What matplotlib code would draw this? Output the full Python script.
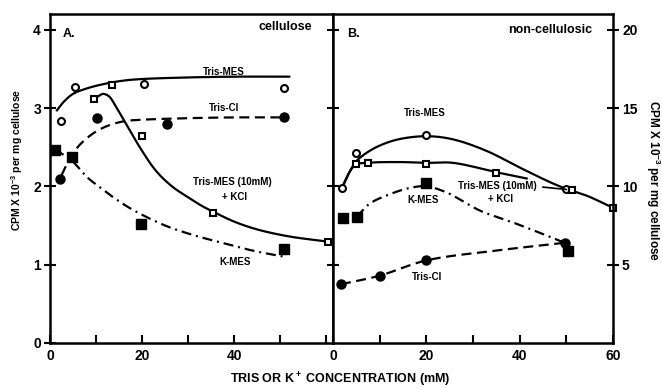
import matplotlib
matplotlib.use("Agg")
import matplotlib.pyplot as plt
import numpy as np

plt.rcParams["font.family"] = ["Liberation Sans", "DejaVu Sans"]
plt.rcParams["font.weight"] = "bold"
plt.rcParams["mathtext.fontset"] = "custom"
plt.rcParams["mathtext.default"] = "bf"
plt.rcParams["mathtext.bf"] = "Liberation Sans:bold"
plt.rcParams["mathtext.rm"] = "Liberation Sans:bold"

# ---- panel A (cellulose), left axis units CPM x 10^-3 ----
a_trismes_x = [2.4, 5.4, 20.4, 50.8]
a_trismes_y = [2.83, 3.27, 3.31, 3.25]
a_kcl_x = [9.5, 13.5, 20.0, 35.5, 60.5]
a_kcl_y = [3.11, 3.30, 2.64, 1.66, 1.29]
a_triscl_x = [2.2, 10.3, 25.4, 50.8]
a_triscl_y = [2.10, 2.87, 2.80, 2.88]
a_kmes_x = [1.1, 4.7, 19.7, 50.8]
a_kmes_y = [2.47, 2.37, 1.52, 1.20]

# hand-drawn fit curves
a_fit_trismes_x = [1.5, 3, 5, 8, 12, 16, 20, 30, 40, 52]
a_fit_trismes_y = [2.97, 3.08, 3.18, 3.25, 3.31, 3.35, 3.37, 3.39, 3.40, 3.40]
a_fit_kcl_x = [10.5, 11.5, 12.8, 14.5, 16.5, 19.5, 23, 26.5, 30, 33, 36, 40, 45, 52, 61]
a_fit_kcl_y = [3.15, 3.18, 3.15, 3.0, 2.8, 2.5, 2.2, 2.0, 1.86, 1.75, 1.66, 1.55, 1.45, 1.36, 1.29]
a_fit_triscl_x = [2.5, 4, 6, 9, 12, 16, 20, 30, 40, 51]
a_fit_triscl_y = [2.14, 2.32, 2.5, 2.66, 2.76, 2.83, 2.85, 2.87, 2.88, 2.88]
a_fit_kmes_x = [1.1, 4.7, 8, 11, 14, 18, 25, 31, 36, 44, 51]
a_fit_kmes_y = [2.47, 2.33, 2.12, 1.98, 1.85, 1.7, 1.5, 1.38, 1.3, 1.18, 1.1]

# ---- panel B (non-cellulosic), right axis units ----
b_trismes_x = [1.9, 5.0, 20.0, 50.0]
b_trismes_y = [9.9, 12.1, 13.3, 9.8]
b_kcl_x = [5.0, 7.5, 20.0, 35.0, 51.2, 60.0]
b_kcl_y = [11.4, 11.5, 11.4, 10.85, 9.75, 8.6]
b_kmes_x = [2.1, 5.1, 20.0, 50.4]
b_kmes_y = [8.0, 8.06, 10.2, 5.9]
b_triscl_x = [1.7, 10.0, 20.0, 49.7]
b_triscl_y = [3.75, 4.3, 5.27, 6.4]

b_fit_trismes_x = [1.9, 3.5, 5, 7, 10, 14, 20, 25.7, 33, 40, 47, 50, 54.4, 60]
b_fit_trismes_y = [9.9, 10.9, 11.6, 12.1, 12.6, 13.0, 13.2, 13.0, 12.25, 11.2, 10.2, 9.84, 9.4, 8.63]
b_fit_kcl_x = [1.9, 4.7, 7.5, 14.3, 20, 25.7, 35, 41.5]
b_fit_kcl_y = [9.9, 11.35, 11.5, 11.55, 11.5, 11.5, 10.9, 10.5]
b_fit_kmes_x = [5.1, 7.9, 12.2, 16.5, 20, 24.4, 31.5, 38.5, 45.8, 50]
b_fit_kmes_y = [8.06, 8.9, 9.5, 9.9, 10.0, 9.6, 8.45, 7.7, 6.86, 6.35]
b_fit_triscl_x = [1.7, 10, 20, 35, 49.7]
b_fit_triscl_y = [3.75, 4.3, 5.27, 5.9, 6.4]

x_ticks = [0, 10, 20, 30, 40, 50, 60]


def smooth(xs, ys, yscale, n=24):
    # centripetal Catmull-Rom through the read points (y scaled to pixel aspect)
    p = np.column_stack([xs, np.asarray(ys, float) * yscale]).astype(float)
    p = np.vstack([2 * p[0] - p[1], p, 2 * p[-1] - p[-2]])
    out = []
    for i in range(1, len(p) - 2):
        p0, p1, p2, p3 = p[i - 1], p[i], p[i + 1], p[i + 2]
        t0 = 0.0
        t1 = t0 + np.linalg.norm(p1 - p0) ** 0.5
        t2 = t1 + np.linalg.norm(p2 - p1) ** 0.5
        t3 = t2 + np.linalg.norm(p3 - p2) ** 0.5
        t = np.linspace(t1, t2, n, endpoint=False)[:, None]
        a1 = (t1 - t) / (t1 - t0) * p0 + (t - t0) / (t1 - t0) * p1
        a2 = (t2 - t) / (t2 - t1) * p1 + (t - t1) / (t2 - t1) * p2
        a3 = (t3 - t) / (t3 - t2) * p2 + (t - t2) / (t3 - t2) * p3
        b1 = (t2 - t) / (t2 - t0) * a1 + (t - t0) / (t2 - t0) * a2
        b2 = (t3 - t) / (t3 - t1) * a2 + (t - t1) / (t3 - t1) * a3
        out.append((t2 - t) / (t2 - t1) * b1 + (t - t1) / (t2 - t1) * b2)
    out.append(p[-2][None, :])
    out = np.vstack(out)
    return out[:, 0], out[:, 1] / yscale


LW = 1.6
DASH = (0, (4.5, 2.5))
DASHDOT = (0, (4.5, 2.2, 0.9, 2.2))
TXT = dict(fontsize=7, fontweight="bold", ha="center", va="center")
YS_A = 78.5 / 4.6
YS_B = 15.75 / 4.67

fig = plt.figure(figsize=(6.62, 3.88), dpi=100)
ax_a = fig.add_axes([50 / 662, 45 / 388, 283 / 662, 329 / 388])
ax_b = fig.add_axes([333 / 662, 45 / 388, 280 / 662, 329 / 388])

for ax in (ax_a, ax_b):
    for sp in ax.spines.values():
        sp.set_linewidth(1.8)
    ax.set_xticks(x_ticks)
    ax.tick_params(axis="x", direction="in", length=6, width=1.5, labelsize=10, pad=4)
    ax.tick_params(axis="y", direction="inout", length=9, width=1.5, labelsize=10, pad=2)

# panel A
ax_a.set_xlim(0, 61.5)
ax_a.set_ylim(0, 4.2)
ax_a.set_yticks([0, 1, 2, 3, 4])
ax_a.set_xticklabels(["0", "", "20", "", "40", "", ""])
ax_a.plot(*smooth(a_fit_trismes_x, a_fit_trismes_y, YS_A), color="black", lw=LW)
ax_a.plot(*smooth(a_fit_kcl_x, a_fit_kcl_y, YS_A), color="black", lw=LW, clip_on=False)
ax_a.plot(*smooth(a_fit_triscl_x, a_fit_triscl_y, YS_A), color="black", lw=LW, linestyle=DASH)
ax_a.plot(*smooth(a_fit_kmes_x, a_fit_kmes_y, YS_A), color="black", lw=LW, linestyle=DASHDOT)
ax_a.plot(a_trismes_x, a_trismes_y, "o", ms=5, mfc="white", mec="black", mew=1.5, ls="none")
ax_a.plot(a_kcl_x, a_kcl_y, "s", ms=5, mfc="white", mec="black", mew=1.5, ls="none", clip_on=False)
ax_a.plot(a_triscl_x, a_triscl_y, "o", ms=6.5, color="black", ls="none")
ax_a.plot(a_kmes_x, a_kmes_y, "s", ms=6.5, color="black", ls="none")

ax_a.text(2.8, 3.94, "A.", fontsize=9, fontweight="bold", ha="left", va="center")
ax_a.text(57, 4.03, "cellulose", fontsize=9, fontweight="bold", ha="right", va="center")
ax_a.text(37.8, 3.46, "Tris-MES", **TXT)
ax_a.text(37.8, 3.0, "Tris-Cl", **TXT)
ax_a.text(39.6, 2.05, "Tris-MES (10mM)", **TXT)
ax_a.text(40, 1.87, "+ KCl", **TXT)
ax_a.text(40.2, 1.03, "K-MES", **TXT)

# panel B
ax_b.set_xlim(0, 60)
ax_b.set_ylim(0, 21)
ax_b.set_xticklabels(["0", "", "20", "", "40", "", "60"])
ax_b.set_yticks([5, 10, 15, 20])
ax_b.yaxis.set_ticks_position("both")
ax_b.tick_params(axis="y", labelleft=False, labelright=True)
ax_b.tick_params(axis="y", which="both", right=True, direction="inout")
ax_b.plot(*smooth(b_fit_trismes_x, b_fit_trismes_y, YS_B), color="black", lw=LW, clip_on=False)
ax_b.plot(*smooth(b_fit_kcl_x, b_fit_kcl_y, YS_B), color="black", lw=LW)
ax_b.plot(*smooth(b_fit_kmes_x, b_fit_kmes_y, YS_B), color="black", lw=LW, linestyle=DASHDOT)
ax_b.plot(*smooth(b_fit_triscl_x, b_fit_triscl_y, YS_B), color="black", lw=LW, linestyle=DASH)
ax_b.plot(b_trismes_x, b_trismes_y, "o", ms=5, mfc="white", mec="black", mew=1.5, ls="none")
ax_b.plot(b_kcl_x, b_kcl_y, "s", ms=5, mfc="white", mec="black", mew=1.5, ls="none", clip_on=False)
ax_b.plot(b_kmes_x, b_kmes_y, "s", ms=6.5, color="black", ls="none")
ax_b.plot(b_triscl_x, b_triscl_y, "o", ms=6.5, color="black", ls="none")

ax_b.text(3.0, 19.7, "B.", fontsize=9, fontweight="bold", ha="left", va="center")
ax_b.text(46.5, 20.0, "non-cellulosic", fontsize=9, fontweight="bold", ha="center", va="center")
ax_b.text(19.7, 14.67, "Tris-MES", **TXT)
ax_b.text(35.3, 10.0, "Tris-MES (10mM)", **TXT)
ax_b.plot([45.0, 50.0], [9.95, 9.8], color="black", lw=1.2)
ax_b.text(35.8, 9.2, "+ KCl", **TXT)
ax_b.text(19.3, 9.1, "K-MES", **TXT)
ax_b.text(20.1, 4.2, "Tris-Cl", **TXT)

fig.text(340 / 662, 1 - 380 / 388, "TRIS OR K$^+$ CONCENTRATION (mM)", fontsize=9,
         fontweight="bold", ha="center", va="center")
fig.text(17 / 662, 1 - 160 / 388, "CPM X 10$^{-3}$ per mg cellulose", fontsize=7.5,
         fontweight="bold", ha="center", va="center", rotation=90)
fig.text(653 / 662, 1 - 181 / 388, "CPM X 10$^{-3}$ per mg cellulose", fontsize=8.5,
         fontweight="bold", ha="center", va="center", rotation=-90)

fig.savefig("out.png", dpi=100)
